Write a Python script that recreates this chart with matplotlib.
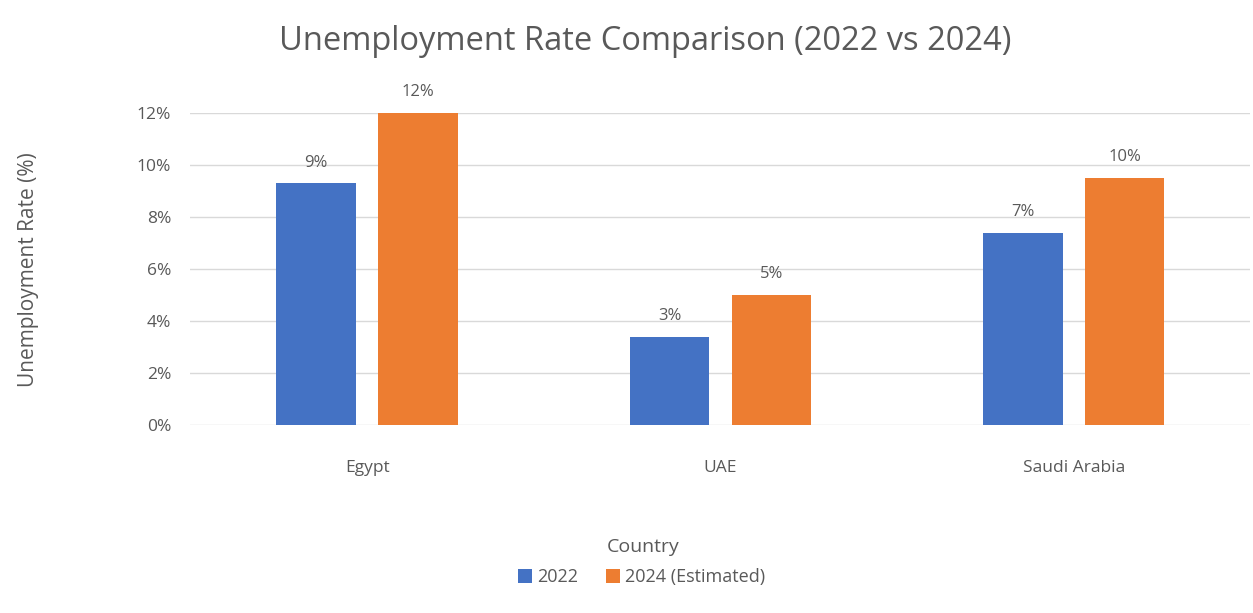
import numpy as np
import matplotlib
matplotlib.use("Agg")
import matplotlib.pyplot as plt
from matplotlib.ticker import FuncFormatter

# Unemployment rates (%) per country
countries = ["Egypt", "UAE", "Saudi Arabia"]
rate_2022 = [9.3, 3.4, 7.4]
rate_2024 = [12.0, 5.0, 9.5]
series_names = ["2022", "2024 (Estimated)"]
y_ticks = [0, 2, 4, 6, 8, 10, 12]

plt.rcParams['font.family'] = ['Open Sans', 'DejaVu Sans']
text_grey = "#595959"
blue = "#4472C4"
orange = "#ED7D31"

fig = plt.figure(figsize=(12.53, 6.13), dpi=100)
ax = fig.add_axes([0.152, 0.3067, 0.846, 0.509])

x = np.arange(len(countries))
width = 0.225
offset = 0.144
b1 = ax.bar(x - offset, rate_2022, width, color=blue, label=series_names[0], zorder=3)
b2 = ax.bar(x + offset, rate_2024, width, color=orange, label=series_names[1], zorder=3)

for bars in (b1, b2):
    for bar in bars:
        h = bar.get_height()
        ax.annotate(f"{h:.0f}%", (bar.get_x() + bar.get_width() / 2, h),
                    xytext=(0, 9), textcoords="offset points",
                    ha="center", va="bottom", fontsize=12, color=text_grey)

ax.set_xlim(-0.5, 2.5)
ax.set_ylim(0, 12)
ax.set_yticks(y_ticks)
ax.yaxis.set_major_formatter(FuncFormatter(lambda v, p: f"{v:.0f}%"))
ax.set_xticks(x)
ax.set_xticklabels(countries)
ax.tick_params(axis="both", length=0, colors=text_grey, labelsize=12.5)
ax.tick_params(axis="x", pad=25)
ax.tick_params(axis="y", pad=14)
ax.grid(axis="y", color="#d9d9d9", linewidth=1, zorder=0)
for s in ax.spines.values():
    s.set_visible(False)

fig.text(0.515, 0.932, "Unemployment Rate Comparison (2022 vs 2024)",
         ha="center", va="center", fontsize=23.5, color=text_grey)
fig.text(0.023, 0.56, "Unemployment Rate (%)", rotation=90,
         ha="center", va="center", fontsize=15, color=text_grey)
fig.text(0.513, 0.108, "Country", ha="center", va="center",
         fontsize=14, color=text_grey)

fig.legend(handles=[b1, b2], loc="center", bbox_to_anchor=(0.512, 0.058),
           ncol=2, frameon=False, fontsize=13, labelcolor=text_grey,
           handlelength=0.8, handleheight=0.8, handletextpad=0.3,
           columnspacing=1.5)

fig.savefig("out.png", dpi=100, facecolor="white")
